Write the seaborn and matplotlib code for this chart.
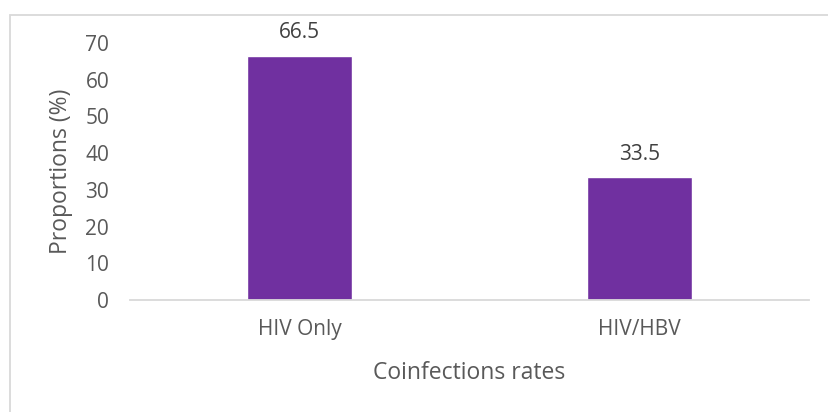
import matplotlib
matplotlib.use("Agg")
import matplotlib.pyplot as plt
import seaborn as sns
import pandas as pd
from matplotlib.patches import Rectangle

categories = ["HIV Only", "HIV/HBV"]
values = [66.5, 33.5]
yticks = [0, 10, 20, 30, 40, 50, 60, 70]

sns.set_style("white")
plt.rcParams['font.family'] = ['Open Sans', 'DejaVu Sans']

df = pd.DataFrame({"cat": categories, "val": values})
W, H = 829, 412
fig = plt.figure(figsize=(W / 100, H / 100), dpi=100)
ax = fig.add_axes([130 / W, 1 - 300 / H, (809 - 130) / W, (300 - 43) / H])

sns.barplot(data=df, x="cat", y="val", color="#7030A0", saturation=1, width=0.31, ax=ax)

grey = "#595959"
ax.set_xlim(-0.5, 1.5)
ax.set_ylim(0, 70)
ax.set_yticks(yticks)
ax.tick_params(axis="both", length=0, labelsize=15, colors=grey)
ax.tick_params(axis="y", pad=15)
ax.tick_params(axis="x", pad=14)
for s in ["top", "right", "left"]:
    ax.spines[s].set_visible(False)
ax.spines["bottom"].set_color("#d9d9d9")
ax.spines["bottom"].set_linewidth(1.3)

ax.set_xlabel("Coinfections rates", fontsize=16.5, color=grey, labelpad=15)
ax.set_ylabel("Proportions (%)", fontsize=16.5, color=grey, labelpad=9)

for i, v in enumerate(values):
    ax.annotate(f"{v}", (i, v), xytext=(0, 9), textcoords="offset points",
                ha="center", va="bottom", fontsize=15, color="#404040")

fig.patches.append(Rectangle((10 / W, -0.1), 1.1, (1 - 15 / H) + 0.1,
                             transform=fig.transFigure, fill=False,
                             edgecolor="#d9d9d9", linewidth=1.3))

fig.savefig("out.png", dpi=100)
